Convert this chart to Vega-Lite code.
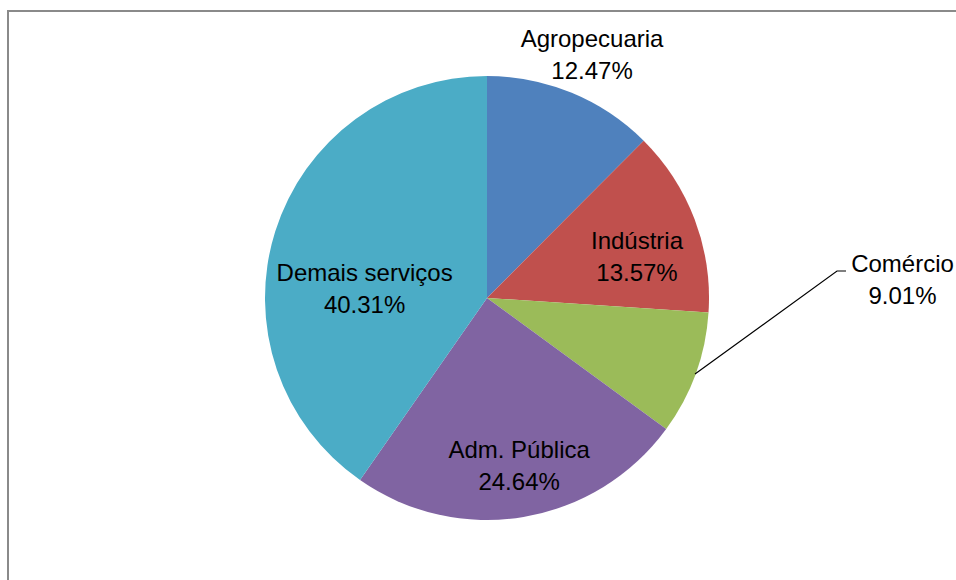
{
  "$schema": "https://vega.github.io/schema/vega-lite/v6.json",
  "autosize": {"type": "none"},
  "padding": {"left": 8, "top": 11, "right": 0, "bottom": 0},
  "width": 958,
  "height": 574,
  "background": "white",
  "config": {
    "view": {"stroke": "#8a8a8a", "strokeWidth": 2},
    "text": {"font": "Liberation Sans", "fontSize": 24, "color": "#000000", "lineBreak": "\n", "lineHeight": 32}
  },
  "datasets": {
    "shares": [
      {"cat": "Agropecuaria", "value": 12.47, "label": "Agropecuaria\n12.47%", "idx": 1},
      {"cat": "Indústria", "value": 13.57, "label": "Indústria\n13.57%", "idx": 2},
      {"cat": "Comércio", "value": 9.01, "label": "Comércio\n9.01%", "idx": 3},
      {"cat": "Adm. Pública", "value": 24.64, "label": "Adm. Pública\n24.64%", "idx": 4},
      {"cat": "Demais serviços", "value": 40.31, "label": "Demais serviços\n40.31%", "idx": 5}
    ],
    "leader": [
      {"px": 208, "py": 76, "o": 0},
      {"px": 350, "py": -27, "o": 1},
      {"px": 359, "py": -27, "o": 2}
    ]
  },
  "layer": [
    {
      "data": {"name": "shares"},
      "mark": {"type": "arc", "outerRadius": 222},
      "encoding": {
        "theta": {"field": "value", "type": "quantitative", "stack": true},
        "order": {"field": "idx", "type": "quantitative"},
        "color": {
          "field": "cat", "type": "nominal", "legend": null,
          "scale": {
            "domain": ["Agropecuaria", "Indústria", "Comércio", "Adm. Pública", "Demais serviços"],
            "range": ["#4F81BD", "#C0504D", "#9BBB59", "#8064A2", "#4BACC6"]
          }
        }
      }
    },
    {
      "data": {"name": "shares"},
      "mark": {"type": "text", "radius": 262, "dx": 5, "dy": -16},
      "encoding": {
        "theta": {"field": "value", "type": "quantitative", "stack": true},
        "order": {"field": "idx", "type": "quantitative"},
        "text": {"condition": {"test": "datum.cat === 'Agropecuaria'", "field": "label"}, "value": ""}
      }
    },
    {
      "data": {"name": "shares"},
      "mark": {"type": "text", "radius": 155, "dx": 5, "dy": -1},
      "encoding": {
        "theta": {"field": "value", "type": "quantitative", "stack": true},
        "order": {"field": "idx", "type": "quantitative"},
        "text": {"condition": {"test": "datum.cat === 'Indústria'", "field": "label"}, "value": ""}
      }
    },
    {
      "data": {"name": "shares"},
      "mark": {"type": "text", "radius": 225, "dx": 204, "dy": -110},
      "encoding": {
        "theta": {"field": "value", "type": "quantitative", "stack": true},
        "order": {"field": "idx", "type": "quantitative"},
        "text": {"condition": {"test": "datum.cat === 'Comércio'", "field": "label"}, "value": ""}
      }
    },
    {
      "data": {"name": "shares"},
      "mark": {"type": "text", "radius": 171, "dx": 4, "dy": -16},
      "encoding": {
        "theta": {"field": "value", "type": "quantitative", "stack": true},
        "order": {"field": "idx", "type": "quantitative"},
        "text": {"condition": {"test": "datum.cat === 'Adm. Pública'", "field": "label"}, "value": ""}
      }
    },
    {
      "data": {"name": "shares"},
      "mark": {"type": "text", "radius": 122, "dx": -6, "dy": 13},
      "encoding": {
        "theta": {"field": "value", "type": "quantitative", "stack": true},
        "order": {"field": "idx", "type": "quantitative"},
        "text": {"condition": {"test": "datum.cat === 'Demais serviços'", "field": "label"}, "value": ""}
      }
    },
    {
      "data": {"name": "leader"},
      "mark": {"type": "line", "color": "#000000", "strokeWidth": 1.2},
      "encoding": {
        "x": {"field": "px", "type": "quantitative", "axis": null, "scale": {"domain": [-479, 479]}},
        "y": {"field": "py", "type": "quantitative", "axis": null, "scale": {"domain": [-287, 287], "reverse": true}},
        "order": {"field": "o", "type": "quantitative"}
      }
    }
  ]
}
